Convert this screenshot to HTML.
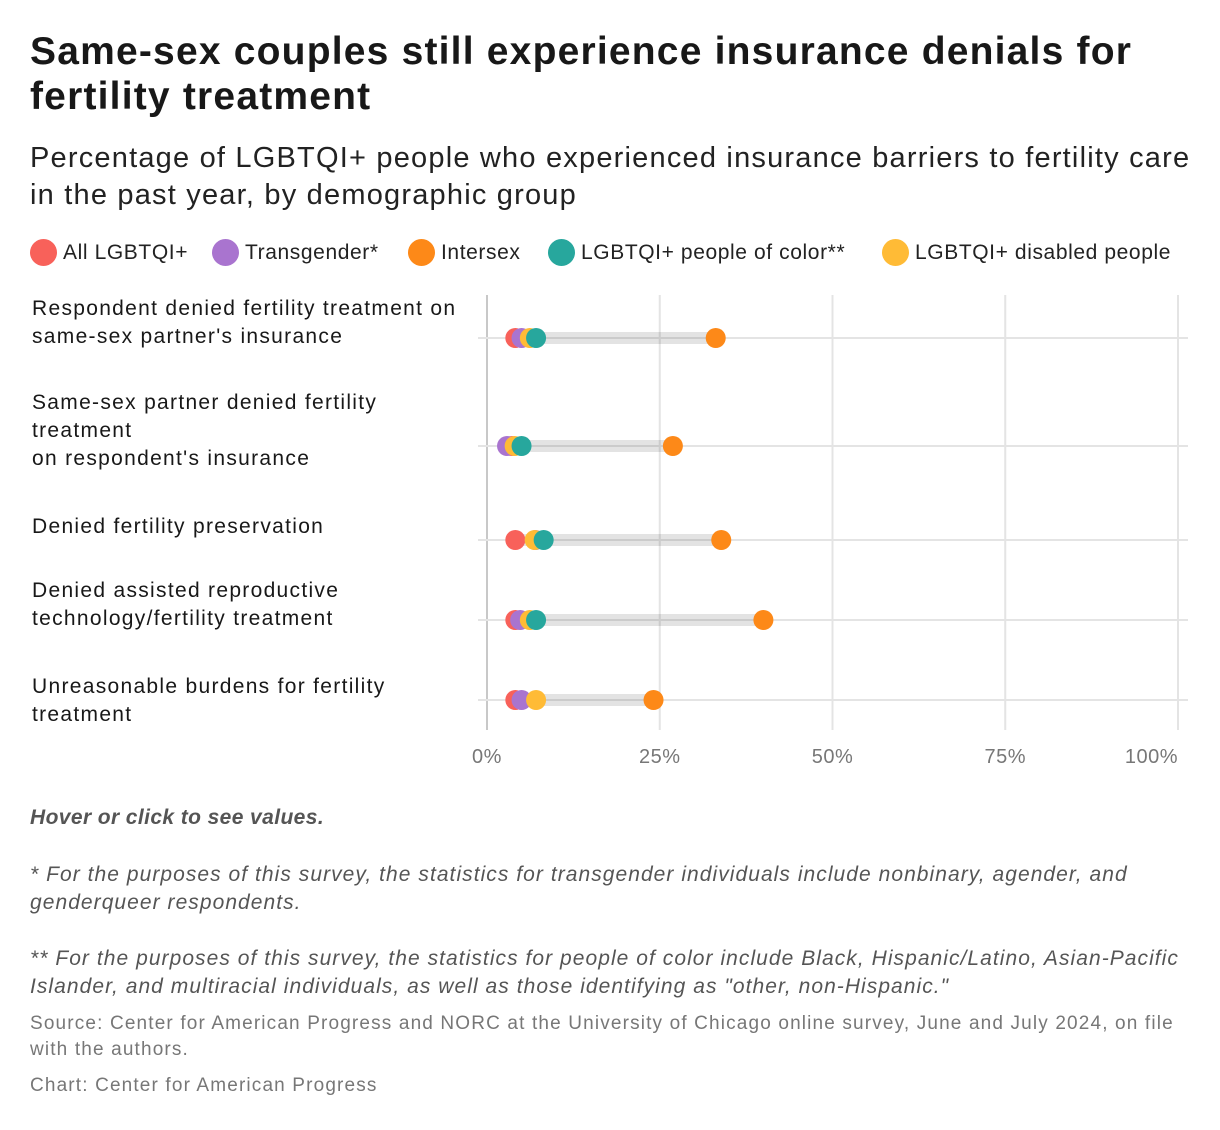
<!DOCTYPE html>
<html><head><meta charset="utf-8">
<style>
body{margin:0;background:#fff;font-family:"Liberation Sans",sans-serif;color:#181818;}
#wrap{position:relative;width:1220px;height:1130px;overflow:hidden;}
.t{position:absolute;white-space:nowrap;}
h1{position:absolute;left:30px;top:29px;margin:0;font-size:39px;line-height:45px;font-weight:bold;letter-spacing:1.2px;}
.sub{left:30px;top:140px;font-size:29px;line-height:37px;color:#222;letter-spacing:1.2px;}
.leg{top:239px;font-size:21px;color:#222;display:flex;align-items:center;letter-spacing:0.6px;}
.leg i{display:inline-block;width:27px;height:27px;border-radius:50%;margin-right:6px;}
.lab{left:32px;font-size:21px;line-height:28px;color:#181818;letter-spacing:1.3px;}
.note{left:30px;font-size:21px;line-height:28px;font-style:italic;color:#555;letter-spacing:1.05px;}
.src{left:30px;font-size:19px;line-height:26px;color:#777;letter-spacing:1.15px;}
</style></head><body>
<div id="wrap">
<h1>Same-sex couples still experience insurance denials for<br>fertility treatment</h1>
<div class="t sub">Percentage of LGBTQI+ people who experienced insurance barriers to fertility care<br>in the past year, by demographic group</div>
<div class="t leg" style="left:30px"><i style="background:#f8615a"></i>All LGBTQI+</div>
<div class="t leg" style="left:212px"><i style="background:#a974cf"></i>Transgender*</div>
<div class="t leg" style="left:408px"><i style="background:#fd8918"></i>Intersex</div>
<div class="t leg" style="left:548px"><i style="background:#27a79d"></i>LGBTQI+ people of color**</div>
<div class="t leg" style="left:882px"><i style="background:#ffbb36"></i>LGBTQI+ disabled people</div>

<div class="t lab" style="top:295px">Respondent denied fertility treatment on<br>same-sex partner's insurance</div>
<div class="t lab" style="top:389px">Same-sex partner denied fertility<br>treatment<br>on respondent's insurance</div>
<div class="t lab" style="top:513px">Denied fertility preservation</div>
<div class="t lab" style="top:577px">Denied assisted reproductive<br>technology/fertility treatment</div>
<div class="t lab" style="top:673px">Unreasonable burdens for fertility<br>treatment</div>

<svg id="plot" width="1220" height="780" style="position:absolute;left:0;top:0"></svg>

<div class="t" style="left:30px;top:806px;font-size:21px;font-weight:bold;font-style:italic;color:#555;letter-spacing:0.4px">Hover or click to see values.</div>
<div class="t note" style="top:861px">* For the purposes of this survey, the statistics for transgender individuals include nonbinary, agender, and<br>genderqueer respondents.</div>
<div class="t note" style="top:945px">** For the purposes of this survey, the statistics for people of color include Black, Hispanic/Latino, Asian-Pacific<br>Islander, and multiracial individuals, as well as those identifying as "other, non-Hispanic."</div>
<div class="t src" style="top:1011px">Source: Center for American Progress and NORC at the University of Chicago online survey, June and July 2024, on file<br>with the authors.</div>
<div class="t src" style="top:1073px">Chart: Center for American Progress</div>
</div>
<script>
const categories=["Respondent denied fertility treatment on same-sex partner's insurance","Same-sex partner denied fertility treatment on respondent's insurance","Denied fertility preservation","Denied assisted reproductive technology/fertility treatment","Unreasonable burdens for fertility treatment"];
const allLgbtqi=[4.1,3.6,4.1,4.1,4.1];
const transgender=[5.0,2.9,7.0,4.8,5.0];
const intersex=[33.1,26.9,33.9,40.0,24.1];
const disabled=[6.2,4.0,6.9,6.2,7.1];
const peopleOfColor=[7.1,5.0,8.2,7.1,null];
const xTicks=[0,25,50,75,100];
const xTickLabels=["0%","25%","50%","75%","100%"];

const NS="http://www.w3.org/2000/svg";
const svg=document.getElementById('plot');
const rowY=[338,446,540,620,700];
const x=v=>487+v*(1178-487)/100;
const y=i=>rowY[i];
function mk(t,a){const e=document.createElementNS(NS,t);for(const k in a)e.setAttribute(k,a[k]);svg.appendChild(e);return e;}
xTicks.forEach((t,i)=>{
  const l=mk('line',{x1:x(t),x2:x(t),y1:295,y2:730,stroke:i==0?'#c8c8c8':'#e4e4e4','stroke-width':2});
  
  
  const last=i==xTicks.length-1;
  const tx=mk('text',{x:last?x(t):x(t),y:763,'text-anchor':last?'end':'middle','font-size':20,fill:'#777','font-family':'Liberation Sans, sans-serif','letter-spacing':'0.5'});
  tx.textContent=xTickLabels[i];
  
  
});
const series=[["all",allLgbtqi,"#f8615a"],["transgender",transgender,"#a974cf"],["intersex",intersex,"#fd8918"],["disabled",disabled,"#ffbb36"],["poc",peopleOfColor,"#27a79d"]];
categories.forEach((c,i)=>{
  const g=mk('line',{x1:478,x2:1188,y1:y(i),y2:y(i),stroke:'#e4e4e4','stroke-width':2});
  
  
  const vals=series.map(s=>s[1][i]).filter(v=>v!=null);
  const mn=Math.min(...vals),mx=Math.max(...vals);
  const b=mk('line',{x1:x(mn),x2:x(mx),y1:y(i),y2:y(i),stroke:'#000','stroke-opacity':0.11,'stroke-width':12});
  
  
  series.forEach(s=>{
    const v=s[1][i]; if(v==null)return;
    const d=mk('circle',{cx:x(v),cy:y(i),r:10,fill:s[2]});
    
    
  });
});
</script>
</body></html>
